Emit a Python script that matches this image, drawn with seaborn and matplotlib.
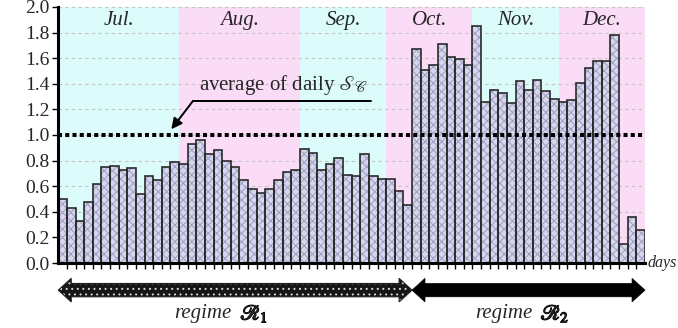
import numpy as np
import pandas as pd
import matplotlib
matplotlib.use("Agg")
import matplotlib.pyplot as plt
import matplotlib.patheffects as pe
import seaborn as sns
from matplotlib.patches import Polygon
from matplotlib.transforms import blended_transform_factory

# daily ratio values, one bar per day
ratio = [0.50, 0.43, 0.33, 0.48, 0.62, 0.75, 0.76, 0.73, 0.74, 0.54,
         0.68, 0.65, 0.75, 0.79, 0.77, 0.93, 0.96, 0.85, 0.88, 0.80,
         0.75, 0.65, 0.58, 0.55, 0.58, 0.65, 0.71, 0.73, 0.89, 0.86,
         0.73, 0.77, 0.82, 0.69, 0.68, 0.85, 0.68, 0.66, 0.66, 0.56,
         0.45, 1.67, 1.51, 1.55, 1.71, 1.61, 1.59, 1.55, 1.85, 1.26,
         1.35, 1.33, 1.25, 1.42, 1.35, 1.43, 1.34, 1.28, 1.26, 1.27,
         1.41, 1.52, 1.58, 1.58, 1.78, 0.15, 0.36, 0.26]
day_index = list(range(len(ratio)))

months = ["Jul.", "Aug.", "Sep.", "Oct.", "Nov.", "Dec."]
bars_per_month = [14, 14, 10, 10, 10, 10]
month_colors = ["#dcfbfb", "#fbdcf7", "#dcfbfb", "#fbdcf7", "#dcfbfb", "#fbdcf7"]

regime_symbols = [r"$\mathscr{R}_1$", r"$\mathscr{R}_2$"]
bars_per_regime = [41, 27]

average_level = 1.0
y_ticks = [0.0, 0.2, 0.4, 0.6, 0.8, 1.0, 1.2, 1.4, 1.6, 1.8, 2.0]

sns.set_style("white")
plt.rcParams["font.family"] = ["Liberation Serif", "DejaVu Serif"]
plt.rcParams["mathtext.fontset"] = "stix"
plt.rcParams["hatch.linewidth"] = 0.7

fig = plt.figure(figsize=(6.78, 3.28), dpi=100)
ax = fig.add_axes([58.3 / 678, 65 / 328, 586.7 / 678, 256 / 328])

# month background bands
edges = np.concatenate([[0], np.cumsum(bars_per_month)]) - 0.5
for m, c, a, b in zip(months, month_colors, edges[:-1], edges[1:]):
    ax.axvspan(a, b, color=c, zorder=0.1, lw=0)
    ax.text((a + b) / 2, 1.895, m, ha="center", va="center",
            fontsize=15, style="italic")

# bars: checkered fill, then dark outlines
sns.barplot(x=day_index, y=ratio, width=1.0, saturation=1, errorbar=None,
            color="#d6d6ec", edgecolor="#9d9dc6", linewidth=0, hatch="xxxx",
            ax=ax, zorder=2)
sns.barplot(x=day_index, y=ratio, width=1.0, errorbar=None, fill=False,
            color="#2a2a2a", linewidth=1.2, ax=ax, zorder=3)

# average level
ax.axhline(average_level, color="black", lw=2.9, linestyle=(0, (1, 0.8)),
           dash_capstyle="butt", zorder=4)

ax.set_xlim(-0.5, len(ratio) - 0.5)
ax.set_ylim(0, 2.0)
ax.set_yticks(y_ticks)
ax.set_yticklabels([f"{v:.1f}" for v in y_ticks], fontsize=14)
ax.set_xticks([])
ax.set_xticks(np.arange(len(ratio) - 1) + 0.5, minor=True)
ax.tick_params(axis="x", which="minor", direction="out", length=4, width=1,
               color="black", bottom=True)
ax.tick_params(axis="y", direction="out", length=4, width=1, color="black",
               left=True, pad=2)
ax.set_xlabel("")
ax.set_ylabel("")

ax.yaxis.grid(True, color="#c4c4c4", linestyle=(0, (3, 3)), lw=0.8)
ax.set_axisbelow(True)
for s in ["top", "right"]:
    ax.spines[s].set_visible(False)
for s in ["left", "bottom"]:
    ax.spines[s].set_linewidth(2.2)
    ax.spines[s].set_color("black")
    ax.spines[s].set_zorder(5)

# annotation of the average line
ax.annotate("", xy=(12.6, 1.045), xytext=(15.1, 1.265),
            arrowprops=dict(arrowstyle="-|>", color="black", lw=1.4,
                            mutation_scale=16, shrinkA=0, shrinkB=0),
            zorder=6)
ax.plot([15.1, 35.8], [1.265, 1.265], color="black", lw=1.4, zorder=6)
ax.text(15.75, 1.355, r"average of daily $\mathscr{S}_{\mathscr{C}}$",
        ha="left", va="baseline", fontsize=15)

ax.text(1.004, 0.0, "days", transform=ax.transAxes, ha="left", va="center",
        fontsize=11.5, style="italic")

# regime arrows below the axis
trans = blended_transform_factory(ax.transData, ax.transAxes)
yc, body, head, hl = -0.106, 0.026, 0.046, 1.5


def double_arrow(x0, x1):
    return [(x0, yc), (x0 + hl, yc + head), (x0 + hl, yc + body),
            (x1 - hl, yc + body), (x1 - hl, yc + head), (x1, yc),
            (x1 - hl, yc - head), (x1 - hl, yc - body), (x0 + hl, yc - body),
            (x0 + hl, yc - head)]


r_edges = np.concatenate([[0], np.cumsum(bars_per_regime)]) - 0.5
pts1 = double_arrow(r_edges[0], r_edges[1])
ax.add_patch(Polygon(pts1, closed=True, transform=trans, clip_on=False,
                     facecolor="#161616", edgecolor="#d8d8d8", hatch="...",
                     lw=0))
ax.add_patch(Polygon(pts1, closed=True, transform=trans, clip_on=False,
                     facecolor="none", edgecolor="#202020", lw=0.8))
pts2 = double_arrow(r_edges[1], r_edges[2])
ax.add_patch(Polygon(pts2, closed=True, transform=trans, clip_on=False,
                     facecolor="black", edgecolor="black", lw=0.5))

# regime labels: italic word followed by a heavy script symbol
word_right = [19.6, 54.4]
for sym, xr in zip(regime_symbols, word_right):
    ax.text(xr, -0.198, "regime", transform=trans, ha="right", va="center",
            fontsize=15, style="italic")
    ax.text(xr + 1.0, -0.198, sym, transform=trans, ha="left", va="center",
            fontsize=15,
            path_effects=[pe.withStroke(linewidth=0.9, foreground="black")])

fig.savefig("out.png", dpi=100)
